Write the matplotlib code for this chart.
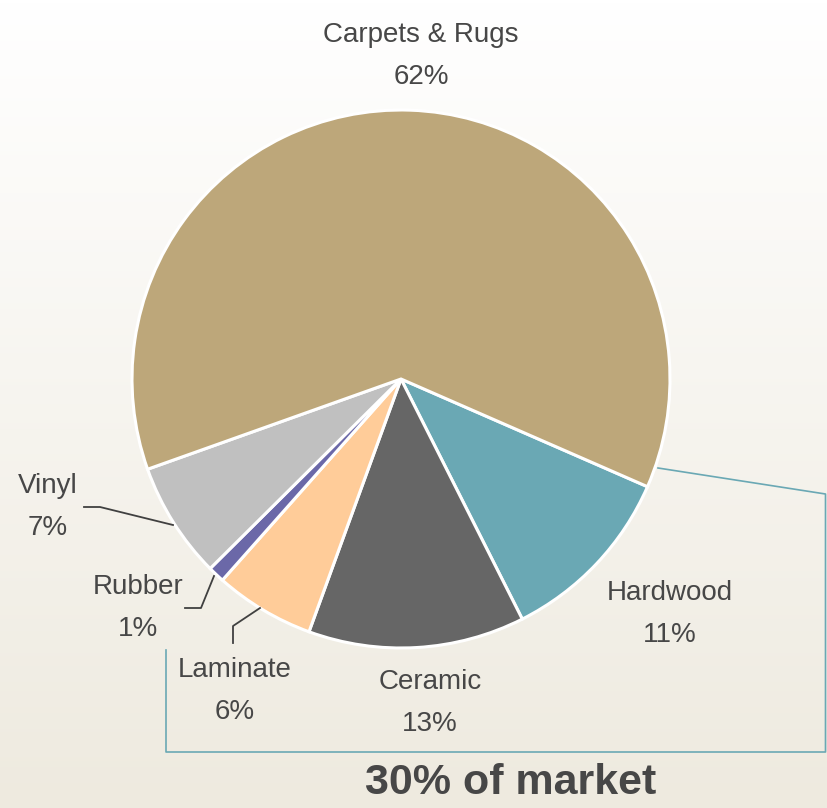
import numpy as np
import matplotlib.pyplot as plt

W, H = 827, 808

labels = ['Hardwood', 'Ceramic', 'Laminate', 'Rubber', 'Vinyl', 'Carpets & Rugs']
shares = [11, 13, 6, 1, 7, 62]
colors = ['#6AA8B4', '#666666', '#FFCC99', '#6B68A8', '#C0C0C0', '#BDA77A']

# label centres in pixels (y measured from the top)
label_pos = [(670, 614), (430, 703), (235, 691), (138, 608), (48, 507), (421, 56)]
leaders = {
    'Vinyl': [(84, 507), (100, 507), (173, 525)],
    'Rubber': [(185, 608), (201, 608), (214, 576)],
    'Laminate': [(233, 643), (233, 626), (260, 608)],
}
callout = [(658, 468), (825.5, 494), (825.5, 752), (166, 752), (166, 650)]

txt_color = '#474747'
font = ['Liberation Sans Narrow', 'Liberation Sans', 'DejaVu Sans']


def px(x, y):
    return x, H - y


fig = plt.figure(figsize=(W / 100, H / 100), dpi=100)
ax = fig.add_axes([0, 0, 1, 1])

# soft vertical gradient behind everything
top = np.array([255, 255, 255]) / 255
bottom = np.array([238, 234, 223]) / 255
t = np.linspace(0, 1, 256)[:, None]
grad = top * (1 - t) + bottom * t
ax.imshow(grad[:, None, :], extent=(0, W, 0, H), aspect='auto', zorder=0)

ax.pie(shares, colors=colors, startangle=-23.6, counterclock=False,
       center=px(401, 379), radius=269,
       wedgeprops=dict(edgecolor='white', linewidth=2.2))

for name, share, (x, y) in zip(labels, shares, label_pos):
    ax.text(*px(x, y), f'{name}\n{share}%', ha='center', va='center',
            fontsize=20, color=txt_color, family=font, linespacing=1.8)

for pts in leaders.values():
    xs, ys = zip(*[px(x, y) for x, y in pts])
    ax.plot(xs, ys, color='#404040', lw=1.3)

xs, ys = zip(*[px(x, y) for x, y in callout])
ax.plot(xs, ys, color='#6AA8B4', lw=1.2)

ax.text(*px(511, 783), '30% of market', ha='center', va='center',
        fontsize=31, fontweight='bold', color=txt_color,
        family=['Liberation Sans', 'DejaVu Sans'])

ax.set_xlim(0, W)
ax.set_ylim(0, H)
ax.axis('off')

fig.savefig('out.png', dpi=100)
